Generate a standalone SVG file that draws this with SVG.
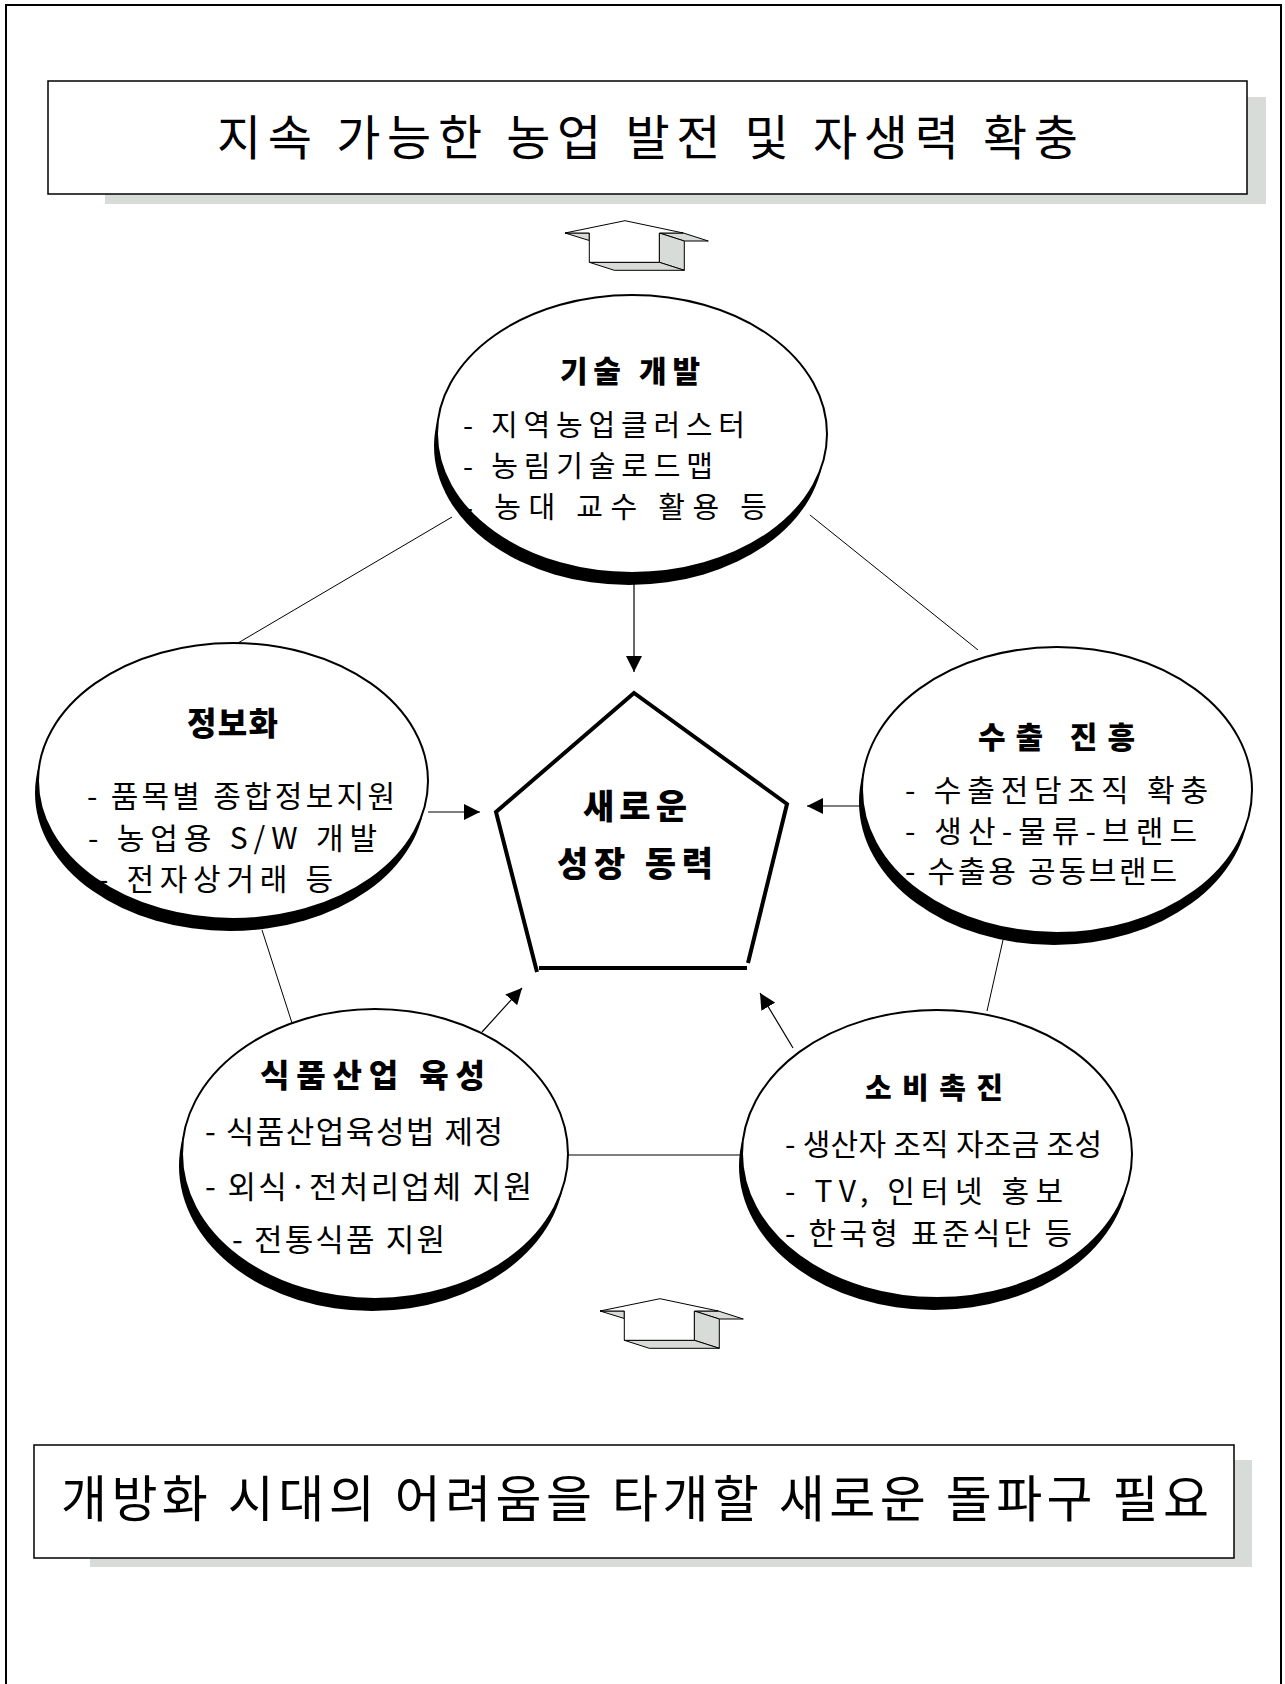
<svg xmlns="http://www.w3.org/2000/svg" width="1285" height="1684" viewBox="0 0 1285 1684">
<style>
  text { font-family: "Noto Sans CJK KR", "Noto Sans", sans-serif; fill: #000; }
  .title { font-size: 30px; font-weight: 900; }
  .ptext { font-size: 34px; font-weight: 900; }
  .item { font-size: 29px; }
  .big { font-size: 48px; }
  .ell { fill: #fff; stroke: #000; stroke-width: 2; }
  .shd { fill: #000; }
  .conn { stroke: #000; stroke-width: 1; fill: none; }
  .arr { stroke: #000; stroke-width: 1.2; fill: none; marker-end: url(#ah); }
  .bshadow { fill: #d8dcd8; }
  .box { fill: #fff; stroke: #000; stroke-width: 1.5; }
  .gray { fill: #d8dcd8; stroke: #000; stroke-width: 1; stroke-linejoin: round; }
  .white { fill: #fff; stroke: #000; stroke-width: 1; stroke-linejoin: round; }
  .pent { fill: none; stroke: #000; stroke-width: 4; }
</style>
<defs>
  <marker id="ah" markerUnits="userSpaceOnUse" markerWidth="16" markerHeight="16" refX="16" refY="8" orient="auto" viewBox="0 0 16 16">
    <path d="M0,0 L16,8 L0,16 z" fill="#000"/>
  </marker>
  <g id="blk">
    <polygon class="gray" points="565,233 589.3,233 589.3,240.5"/>
    <polygon class="gray" points="659.3,233 683.3,233 708.3,241 684.3,241"/>
    <polygon class="gray" points="659.3,233 684.3,241 684.3,270.3 659.3,262.3"/>
    <polygon class="gray" points="589.3,262.3 659.3,262.3 684.3,270.3 614.3,270.3"/>
    <polygon class="white" points="625,220.7 683.3,233 659.3,233 659.3,262.3 589.3,262.3 589.3,233 565,233"/>
  </g>
</defs>

<rect width="1285" height="1684" fill="#fff"/>
<path d="M6,1684 V5 H1281 V1684" fill="none" stroke="#000" stroke-width="2"/>

<g id="goal">
  <rect class="bshadow" x="105" y="97" width="1161" height="107"/>
  <rect class="box" x="48" y="81" width="1199" height="113"/>
  <text class="big" x="217" y="155" textLength="861" lengthAdjust="spacing">지속 가능한 농업 발전 및 자생력 확충</text>
</g>

<g id="arrow-top"><use href="#blk"/></g>

<g id="connectors">
  <line class="conn" x1="452" y1="517" x2="238" y2="643"/>
  <line class="conn" x1="810" y1="515" x2="978" y2="650"/>
  <line class="conn" x1="262" y1="930" x2="292" y2="1023"/>
  <line class="conn" x1="1003" y1="940" x2="987" y2="1011"/>
  <line class="conn" x1="568" y1="1155" x2="742" y2="1155"/>
  <line class="arr" x1="634" y1="584" x2="634" y2="672"/>
  <line class="arr" x1="428" y1="812" x2="480" y2="812"/>
  <line class="arr" x1="863" y1="806" x2="807" y2="806"/>
  <line class="arr" x1="482" y1="1032" x2="522" y2="988"/>
  <line class="arr" x1="793" y1="1048" x2="760" y2="993"/>
</g>

<g id="node-tech">
  <ellipse class="shd" cx="629" cy="446" rx="195" ry="139"/>
  <ellipse class="ell" cx="632" cy="434" rx="195" ry="139"/>
  <text class="title" x="560" y="382" textLength="140" lengthAdjust="spacing">기술 개발</text>
  <text class="item" x="463" y="436" textLength="282" lengthAdjust="spacing">- 지역농업클러스터</text>
  <text class="item" x="463" y="477" textLength="250" lengthAdjust="spacing">- 농림기술로드맵</text>
  <text class="item" x="463" y="518" textLength="304" lengthAdjust="spacing">- 농대 교수 활용 등</text>
</g>

<g id="node-info">
  <ellipse class="shd" cx="230" cy="793" rx="195" ry="138"/>
  <ellipse class="ell" cx="233" cy="781" rx="195" ry="138"/>
  <text class="title" x="187" y="735" textLength="91" lengthAdjust="spacing" style="font-size:32px">정보화</text>
  <text class="item" x="87" y="807" textLength="308" lengthAdjust="spacing" style="font-size:30px">- 품목별 종합정보지원</text>
  <text class="item" x="88" y="849" textLength="289" lengthAdjust="spacing" style="font-size:30px">- 농업용 S/W 개발</text>
  <text class="item" x="98" y="890" textLength="235" lengthAdjust="spacing" style="font-size:30px">- 전자상거래 등</text>
</g>

<g id="node-export">
  <ellipse class="shd" cx="1054" cy="802" rx="195" ry="143"/>
  <ellipse class="ell" cx="1057" cy="790" rx="195" ry="143"/>
  <text class="title" x="978" y="748" textLength="157" lengthAdjust="spacing">수출 진흥</text>
  <text class="item" x="905" y="801" textLength="303" lengthAdjust="spacing" style="font-size:30px">- 수출전담조직 확충</text>
  <text class="item" x="905" y="842" textLength="292" lengthAdjust="spacing" style="font-size:30px">- 생산-물류-브랜드</text>
  <text class="item" x="905" y="882" textLength="272" lengthAdjust="spacing" style="font-size:30px">- 수출용 공동브랜드</text>
</g>

<g id="node-food">
  <ellipse class="shd" cx="372" cy="1166" rx="193" ry="145"/>
  <ellipse class="ell" cx="375" cy="1154" rx="193" ry="145"/>
  <text class="title" x="260" y="1087" textLength="225" lengthAdjust="spacing" style="font-size:32px">식품산업 육성</text>
  <text class="item" x="205" y="1143" textLength="298" lengthAdjust="spacing" style="font-size:31px">- 식품산업육성법 제정</text>
  <text class="item" x="205" y="1198" textLength="327" lengthAdjust="spacing" style="font-size:31px">- 외식·전처리업체 지원</text>
  <text class="item" x="232" y="1251" textLength="213" lengthAdjust="spacing" style="font-size:31px">- 전통식품 지원</text>
</g>

<g id="node-consume">
  <ellipse class="shd" cx="934" cy="1166" rx="195" ry="144"/>
  <ellipse class="ell" cx="937" cy="1154" rx="195" ry="144"/>
  <text class="title" x="865" y="1099" textLength="138" lengthAdjust="spacing" style="font-size:29px">소비촉진</text>
  <text class="item" x="785" y="1155" textLength="317" lengthAdjust="spacing" style="font-size:30px">- 생산자 조직 자조금 조성</text>
  <text class="item" x="785" y="1202" textLength="278" lengthAdjust="spacing" style="font-size:30px">- TV, 인터넷 홍보</text>
  <text class="item" x="785" y="1244" textLength="287" lengthAdjust="spacing" style="font-size:30px">- 한국형 표준식단 등</text>
</g>

<g id="node-center">
  <path class="pent" d="M537,972 L496,812 L634,693 L787,804 L748,963"/>
  <line class="pent" x1="539" y1="968" x2="747" y2="968"/>
  <text class="ptext" x="583" y="819" textLength="104" lengthAdjust="spacing">새로운</text>
  <text class="ptext" x="557" y="876" textLength="156" lengthAdjust="spacing">성장 동력</text>
</g>

<g id="arrow-bottom"><use href="#blk" transform="translate(35,1078)"/></g>

<g id="need">
  <rect class="bshadow" x="90" y="1460" width="1162" height="107"/>
  <rect class="box" x="34" y="1445" width="1200" height="113"/>
  <text class="big" x="61" y="1517" textLength="1148" lengthAdjust="spacing" style="font-size:50px">개방화 시대의 어려움을 타개할 새로운 돌파구 필요</text>
</g>
</svg>
